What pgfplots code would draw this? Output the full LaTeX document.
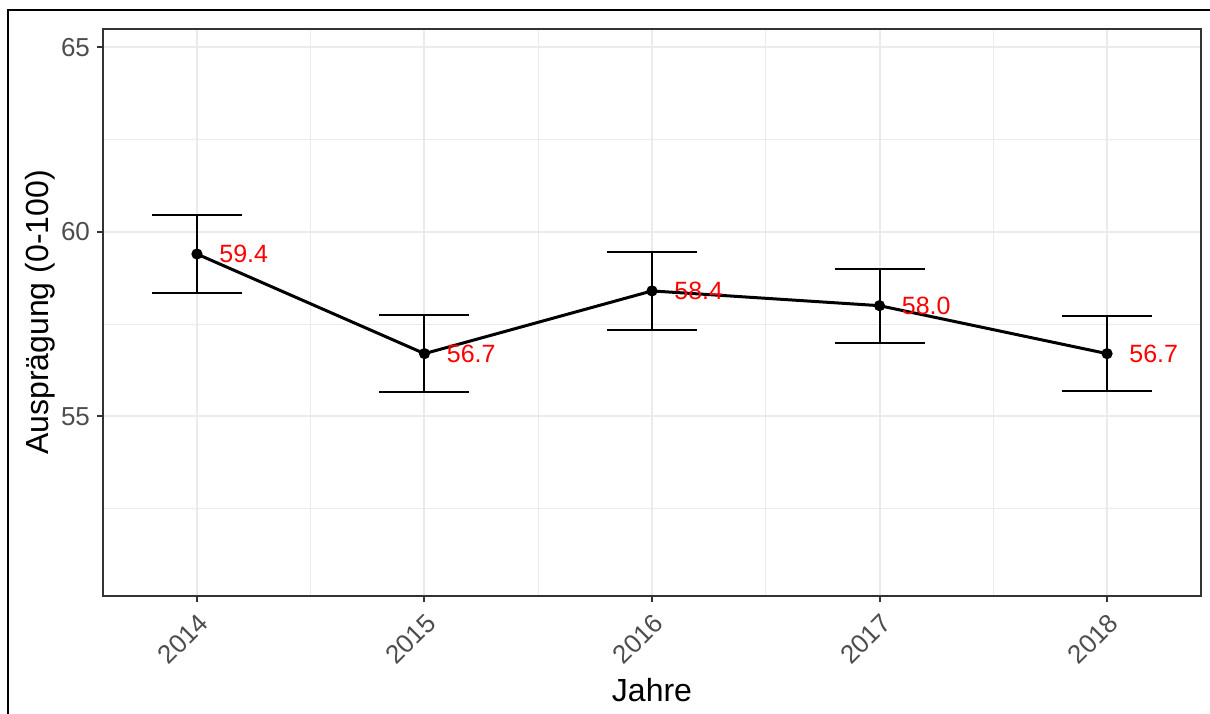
\documentclass[border=0pt]{standalone}
\usepackage{fontspec}
\setmainfont{Liberation Sans}
\usepackage{pgfplots}
\pgfplotsset{compat=1.18}
\usepackage{pgfplotstable}

\definecolor{gridc}{HTML}{EBEBEB}
\definecolor{tickc}{HTML}{4D4D4D}
\definecolor{framec}{HTML}{333333}

% Jahr, Mittelwert, Fehler (halbe Intervallbreite), Beschriftung
\pgfplotstableread{
jahr wert fehler lab
2014 59.4 1.05 59.4
2015 56.7 1.05 56.7
2016 58.4 1.05 58.4
2017 58.0 1.00 58.0
2018 56.7 1.02 56.7
}\ausp

\begin{document}
\begin{tikzpicture}
\useasboundingbox (0pt,0pt) rectangle (605pt,356.5pt);
\draw[line width=1.2pt] (4pt,-2pt) -- (4pt,351.5pt) -- (607pt,351.5pt);
\begin{axis}[
  at={(51.5pt,58.5pt)}, anchor=south west,
  scale only axis, width=549pt, height=283.5pt,
  xmin=2013.587, xmax=2018.413, ymin=50.13, ymax=65.5,
  xtick={2014,2015,2016,2017,2018},
  minor xtick={2014.5,2015.5,2016.5,2017.5},
  ytick={55,60,65},
  minor ytick={52.5,57.5,62.5},
  grid=both,
  major grid style={gridc, line width=1pt},
  minor grid style={gridc, line width=0.5pt},
  axis line style={framec, line width=1pt},
  tick style={framec, line width=1pt},
  major tick length=3pt, minor tick length=0pt,
  tick align=outside, tick pos=left,
  /pgf/number format/1000 sep={},
  /pgf/number format/assume math mode=true,
  xticklabel style={rotate=45, anchor=north east, text=tickc,
    font=\fontsize{13}{15}\selectfont},
  yticklabel style={text=tickc, font=\fontsize{13}{15}\selectfont},
  xlabel={Jahre},
  ylabel={Ausprägung (0-100)},
  xlabel style={at={(axis description cs:0.5,-0.166)}, anchor=center,
    font=\fontsize{16}{18}\selectfont},
  ylabel style={at={(axis description cs:-0.0574,0.5)}, anchor=center,
    font=\fontsize{16}{18}\selectfont},
]
\addplot[black, line width=1.5pt, mark=*, mark size=2pt,
  error bars/.cd, y dir=both, y explicit,
  error bar style={line width=1pt, black},
  error mark options={rotate=90, mark size=22.5pt, line width=1pt, black}]
  table[x=jahr, y=wert, y error=fehler] {\ausp};
\addplot[draw=none, mark=none,
  nodes near coords, point meta=explicit symbolic,
  nodes near coords style={anchor=west, inner sep=0pt, xshift=11pt,
    text=red, font=\fontsize{12.5}{14}\selectfont}]
  table[x=jahr, y=wert, meta=lab] {\ausp};
\end{axis}
\end{tikzpicture}
\end{document}
